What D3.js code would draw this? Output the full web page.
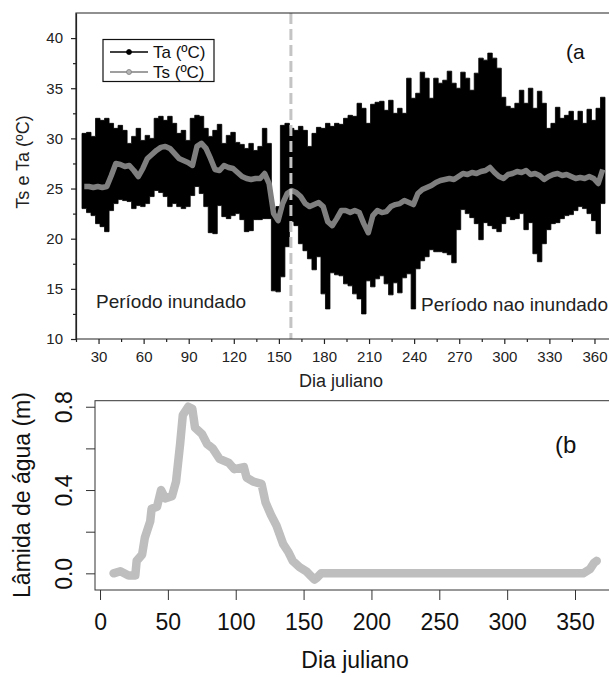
<!DOCTYPE html>
<html>
<head>
<meta charset="utf-8">
<script src="https://cdn.jsdelivr.net/npm/d3@7"></script>
<style>
  body { margin: 0; background: #fff; }
  text { font-family: "Liberation Sans", Arial, sans-serif; }
</style>
</head>
<body>
<script>
// sample days for the air / soil temperature series (every 3 days)
const taDays = d3.range(19, 365, 3);

// daily max of air temperature Ta (ºC)
const taMax = [
  30.5, 30.6, 30.2, 32.0, 31.8, 32.0, 31.5, 31.0, 31.3, 30.8,
  29.5, 30.2, 31.0, 29.8, 30.3, 30.0, 32.0, 32.2, 31.8, 32.2,
  31.5, 30.5, 30.8, 29.8, 32.0, 32.3, 32.2, 31.0, 30.2, 30.8,
  31.4, 29.5, 30.3, 30.6, 29.6, 29.4, 29.0, 29.5, 28.8, 29.2,
  31.0, 29.5, 23.0, 23.2, 31.3, 31.5, 31.0, 30.8, 31.2, 30.8,
  29.2, 30.5, 31.1, 31.0, 31.5, 31.2, 31.5, 31.4, 32.0, 32.3,
  32.2, 33.5, 33.0, 31.5, 33.4, 33.6, 33.7, 32.8, 33.8, 32.5,
  33.0, 32.5, 36.0, 34.0, 34.5, 36.6, 36.0, 34.0, 36.0, 35.5,
  35.8, 36.7, 35.5, 35.0, 36.6, 36.0, 34.8, 36.5, 38.0, 37.8,
  38.5, 38.0, 37.0, 34.1, 33.2, 33.0, 33.5, 34.8, 33.5, 35.0,
  33.0, 34.7, 33.5, 31.0, 31.5, 33.1, 32.0, 32.3, 32.7, 31.8,
  32.7, 31.5, 32.9, 31.8, 33.0, 34.1
];

// daily min of air temperature Ta (ºC)
const taMin = [
  23.0, 22.6, 22.3, 21.5, 21.2, 20.7, 22.8, 23.5, 23.9, 23.8,
  23.7, 23.0, 23.3, 23.2, 23.5, 24.2, 24.8, 24.6, 24.2, 23.2,
  23.5, 23.2, 23.0, 23.2, 24.3, 25.2, 24.5, 23.2, 20.6, 20.5,
  23.3, 22.2, 22.0, 22.3, 22.5, 21.9, 20.7, 20.8, 21.9, 21.9,
  22.0, 22.0, 14.8, 14.7, 16.2, 19.2, 21.7, 21.3, 19.5, 18.8,
  18.0, 16.9, 18.2, 14.5, 13.0, 16.6, 16.4, 16.3, 15.5, 15.3,
  14.5, 14.0, 12.5, 15.8, 15.2, 16.0, 16.3, 15.5, 14.4, 15.6,
  14.6, 16.1, 16.5, 13.0, 17.0, 17.8, 18.2, 18.9, 18.7, 18.7,
  18.6, 18.4, 17.6, 20.9, 22.9, 22.5, 22.1, 21.5, 19.9, 21.6,
  21.3, 21.0, 20.7, 21.5, 22.2, 21.9, 22.0, 22.5, 20.9, 21.6,
  18.5, 17.7, 19.5, 20.9, 21.5, 21.6, 22.0, 22.3, 22.4, 22.8,
  23.2, 23.0, 22.5, 21.8, 20.5, 23.5
];

// soil temperature Ts (ºC)
const tsVal = [
  25.2, 25.2, 25.1, 25.2, 25.1, 25.2, 26.3, 27.5, 27.4, 27.2,
  27.3, 26.8, 26.2, 27.0, 28.0, 28.4, 28.8, 29.1, 29.2, 29.0,
  28.5, 28.0, 27.8, 27.6, 27.3, 29.2, 29.5, 29.0, 28.0, 26.9,
  26.8, 27.3, 27.1, 27.0, 26.6, 26.2, 26.0, 25.9, 26.0, 26.0,
  26.5, 25.5, 22.5, 21.8, 23.5, 24.5, 24.8, 24.6, 24.2, 23.5,
  23.2, 23.4, 23.6, 23.2, 21.7, 21.3, 22.0, 22.8, 22.8, 22.6,
  22.8, 22.6, 21.5, 20.6, 22.3, 22.8, 22.6, 22.7, 23.2, 23.4,
  23.5, 23.8, 23.6, 23.4, 24.5, 24.9, 25.1, 25.3, 25.6, 25.8,
  25.9, 26.0, 25.9, 26.2, 26.5, 26.4, 26.6, 26.5, 26.7, 26.8,
  27.1, 26.6, 26.2, 26.0, 26.4, 26.5, 26.7, 26.6, 26.8, 26.4,
  26.5, 26.3, 25.9, 26.2, 26.4, 26.5, 26.3, 26.4, 26.2, 26.0,
  26.1, 26.0, 26.2, 26.0, 25.5, 26.9
];

// water depth (m)
const wDays = [10, 15, 21, 26, 27, 31, 33, 37, 38, 42, 45, 48, 53, 56, 59, 61, 65, 68,
  70, 75, 79, 83, 88, 95, 99, 106, 108, 113, 119, 122, 126, 130, 135, 139, 142, 147,
  152, 155, 158, 160, 163, 200, 250, 300, 350, 356, 361, 364, 366];
const wVal = [0.0, 0.01, -0.01, -0.01, 0.06, 0.09, 0.17, 0.25, 0.31, 0.32, 0.40, 0.36,
  0.37, 0.44, 0.62, 0.76, 0.80, 0.79, 0.70, 0.67, 0.62, 0.60, 0.55, 0.53, 0.50, 0.51,
  0.46, 0.44, 0.43, 0.34, 0.28, 0.23, 0.14, 0.10, 0.06, 0.03, 0.01, -0.01, -0.03, -0.02,
  0.0, 0.0, 0.0, 0.0, 0.0, 0.0, 0.02, 0.05, 0.06];

const floodEnd = 158;
const xTicksTop = [30, 60, 90, 120, 150, 180, 210, 240, 270, 300, 330, 360];
const yTicksTop = [10, 15, 20, 25, 30, 35, 40];
const xTicksBottom = [0, 50, 100, 150, 200, 250, 300, 350];
const yTicksBottom = [0, 0.2, 0.4, 0.6, 0.8];

const svg = d3.select("body").append("svg")
    .attr("width", 609)
    .attr("height", 677);

// ---------- panel (a) ----------
const x1 = d3.scaleLinear().domain([15, 369]).range([76, 608]);
const y1 = d3.scaleLinear().domain([10, 42.5]).range([339, 13]);
const step = 3;

// Ta daily range, one step per sample; last sample closes at +step
const taData = taDays.map((d, i) => ({ d: d, lo: taMin[i], hi: taMax[i] }));
const lastTa = taData[taData.length - 1];
taData.push({ d: lastTa.d + step, lo: lastTa.lo, hi: lastTa.hi });

svg.append("path")
    .datum(taData)
    .attr("fill", "#000")
    .attr("stroke", "#000")
    .attr("stroke-width", 0.8)
    .attr("d", d3.area()
        .curve(d3.curveStepAfter)
        .x(d => x1(d.d))
        .y0(d => y1(d.lo))
        .y1(d => y1(d.hi)));

// Ts line
svg.append("path")
    .datum(taDays)
    .attr("fill", "none")
    .attr("stroke", "#7f7f7f")
    .attr("stroke-width", 5.5)
    .attr("stroke-linejoin", "round")
    .attr("d", d3.line()
        .x(d => x1(d + step / 2))
        .y((d, i) => y1(tsVal[i])));

// end of the flooded period
svg.append("line")
    .attr("x1", x1(floodEnd)).attr("x2", x1(floodEnd))
    .attr("y1", y1(42.5)).attr("y2", y1(10))
    .attr("stroke", "#c4c4c4")
    .attr("stroke-width", 3)
    .attr("stroke-dasharray", "11,5");

// frame (top + left)
svg.append("path")
    .attr("d", "M76,339V13H612")
    .attr("fill", "none")
    .attr("stroke", "#222")
    .attr("stroke-width", 1.2);

// axes
const gx1 = svg.append("g")
    .attr("transform", "translate(0,339)")
    .call(d3.axisBottom(x1).tickValues(xTicksTop).tickSize(5).tickSizeOuter(0).tickPadding(7));
svg.append("g")
    .attr("transform", "translate(0,339)")
    .call(d3.axisBottom(x1).tickValues(d3.range(15, 369, 15).filter(v => v % 30)).tickSize(3).tickFormat(""))
    .select(".domain").remove();
const gy1 = svg.append("g")
    .attr("transform", "translate(76,0)")
    .call(d3.axisLeft(y1).tickValues(yTicksTop).tickSize(5).tickSizeOuter(0).tickPadding(8));
svg.append("g")
    .attr("transform", "translate(76,0)")
    .call(d3.axisLeft(y1).tickValues(d3.range(12.5, 40, 5)).tickSize(3).tickFormat(""))
    .select(".domain").remove();

svg.selectAll(".tick line, .domain").attr("stroke", "#222").attr("stroke-width", 1.2);
gx1.selectAll("text").style("font-size", "15px").attr("fill", "#222");
gy1.selectAll("text").style("font-size", "15px").attr("fill", "#222");
gx1.select(".domain").attr("d", "M76,0H612");

// labels
svg.append("text")
    .attr("x", 341).attr("y", 387)
    .style("text-anchor", "middle")
    .style("font-size", "18px")
    .attr("fill", "#222")
    .text("Dia juliano");

svg.append("text")
    .attr("transform", "translate(29,162) rotate(-90)")
    .style("text-anchor", "middle")
    .style("font-size", "18px")
    .attr("fill", "#222")
    .text("Ts e Ta (ºC)");

svg.append("text")
    .attr("x", 96).attr("y", 308)
    .style("font-size", "19px")
    .attr("fill", "#222")
    .text("Período inundado");

svg.append("text")
    .attr("x", 421).attr("y", 311)
    .style("font-size", "19px")
    .attr("fill", "#222")
    .text("Período nao inundado");

svg.append("text")
    .attr("x", 566).attr("y", 59)
    .style("font-size", "21px")
    .attr("fill", "#111")
    .text("(a");

// legend
const legend = svg.append("g");
legend.append("rect")
    .attr("x", 103).attr("y", 39.5)
    .attr("width", 111).attr("height", 42)
    .attr("fill", "#fff")
    .attr("stroke", "#111")
    .attr("stroke-width", 1.2);

const legendItems = [
  { label: "Ta (ºC)", line: "#000", dot: "#000", y: 52 },
  { label: "Ts (ºC)", line: "#7f7f7f", dot: "#b5b5b5", y: 72 }
];
const li = legend.selectAll(".li")
    .data(legendItems)
    .enter().append("g")
    .attr("class", "li");
li.append("line")
    .attr("x1", 110).attr("x2", 148)
    .attr("y1", d => d.y).attr("y2", d => d.y)
    .attr("stroke", d => d.line)
    .attr("stroke-width", 1.5);
li.append("circle")
    .attr("cx", 129).attr("cy", d => d.y)
    .attr("r", 2.5)
    .attr("fill", d => d.dot)
    .attr("stroke", d => d.line)
    .attr("stroke-width", 0.8);
li.append("text")
    .attr("x", 153).attr("y", d => d.y + 6)
    .style("font-size", "17px")
    .attr("fill", "#111")
    .text(d => d.label);

// ---------- panel (b) ----------
const x2 = d3.scaleLinear().domain([-3.7, 380.2]).range([95, 616]);
const y2 = d3.scaleLinear().domain([-0.08, 0.829]).range([590, 400.7]);

svg.append("rect")
    .attr("x", 95).attr("y", 400.7)
    .attr("width", 521).attr("height", 189.3)
    .attr("fill", "none")
    .attr("stroke", "#333")
    .attr("stroke-width", 1);

svg.append("path")
    .datum(wDays)
    .attr("fill", "none")
    .attr("stroke", "#bebebe")
    .attr("stroke-width", 8.5)
    .attr("stroke-linejoin", "round")
    .attr("stroke-linecap", "round")
    .attr("d", d3.line()
        .x(d => x2(d))
        .y((d, i) => y2(wVal[i])));

const gx2 = svg.append("g")
    .attr("transform", "translate(0,590)")
    .call(d3.axisBottom(x2).tickValues(xTicksBottom).tickSize(10).tickSizeOuter(0).tickPadding(14));
gx2.select(".domain").remove();
gx2.selectAll("line").attr("stroke", "#333");
gx2.selectAll("text").style("font-size", "23px").attr("fill", "#111");

const gy2 = svg.append("g")
    .attr("transform", "translate(95,0)")
    .call(d3.axisLeft(y2).tickValues(yTicksBottom).tickSize(9).tickSizeOuter(0)
        .tickFormat(d => (Math.abs(d * 10) % 4 < 0.01) ? d.toFixed(1) : ""));
gy2.select(".domain").remove();
gy2.selectAll("line").attr("stroke", "#333");
gy2.selectAll("text")
    .attr("x", null).attr("dy", null)
    .attr("transform", "translate(-23,0) rotate(-90)")
    .style("text-anchor", "middle")
    .style("font-size", "23px")
    .attr("fill", "#111");

svg.append("text")
    .attr("x", 355).attr("y", 668)
    .style("text-anchor", "middle")
    .style("font-size", "23px")
    .attr("fill", "#111")
    .text("Dia juliano");

svg.append("text")
    .attr("transform", "translate(30,495) rotate(-90)")
    .style("text-anchor", "middle")
    .style("font-size", "23px")
    .attr("fill", "#111")
    .text("Lâmida de água (m)");

svg.append("text")
    .attr("x", 555).attr("y", 453)
    .style("font-size", "24px")
    .attr("fill", "#111")
    .text("(b");
</script>
</body>
</html>
